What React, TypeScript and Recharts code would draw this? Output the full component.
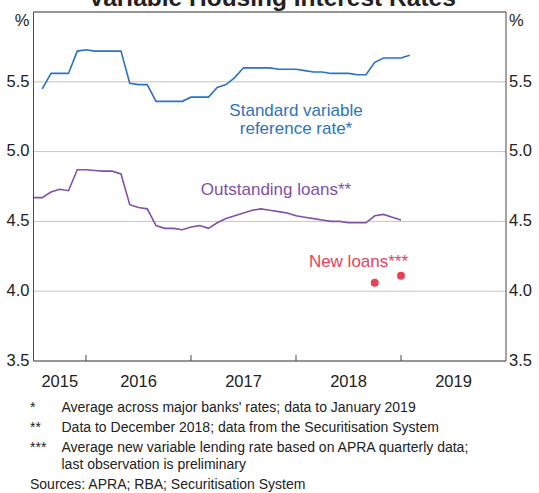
import { CartesianGrid, Line, LineChart, ReferenceLine, XAxis, YAxis } from "recharts";

// monthly observations, first entry is June 2015 (plotted at month end)
const startYear = 2015;
const startMonth = 6;

// Standard variable reference rate, July 2015 - January 2019
const standardVariable = [
    null, 5.45, 5.56, 5.56, 5.56, 5.72, 5.73, 5.72, 5.72, 5.72, 5.72,
    5.49, 5.48, 5.48, 5.36, 5.36, 5.36, 5.36, 5.39, 5.39, 5.39,
    5.46, 5.48, 5.53, 5.60, 5.60, 5.60, 5.60, 5.59, 5.59, 5.59,
    5.58, 5.57, 5.57, 5.56, 5.56, 5.56, 5.55, 5.55, 5.64, 5.67,
    5.67, 5.67, 5.69,
];

// Outstanding loans, June 2015 - December 2018
const outstandingLoans = [
    4.67, 4.67, 4.71, 4.73, 4.72, 4.87, 4.87, 4.865, 4.86, 4.86,
    4.84, 4.62, 4.60, 4.59, 4.47, 4.45, 4.45, 4.44, 4.46, 4.47,
    4.45, 4.49, 4.52, 4.54, 4.56, 4.58, 4.59, 4.58, 4.57, 4.56,
    4.54, 4.53, 4.52, 4.51, 4.50, 4.50, 4.49, 4.49, 4.49, 4.54,
    4.55, 4.53, 4.51,
];

// New loans (quarterly)
const newLoanQuarters = ["2018-09", "2018-12"];
const newLoanRates = [4.06, 4.11];

const yearTicks = [2016, 2017, 2018, 2019];
const yearLabelTicks = [2015.75, 2016.5, 2017.5, 2018.5, 2019.5];
const rateTicks = [3.5, 4, 4.5, 5, 5.5, 6];

const BLUE = "#2B73C2";
const PURPLE = "#8150AA";
const RED = "#E9415A";
const AXIS = "#4a4a4a";
const FONT = "'Liberation Sans', Arial, sans-serif";

const monthCount = Math.max(standardVariable.length, outstandingLoans.length);
const data = Array.from({ length: monthCount }, (_, k) => ({
    date: startYear + (startMonth + k) / 12,
    svr: standardVariable[k] ?? null,
    outstanding: outstandingLoans[k] ?? null,
    newLoans: null as number | null,
}));
newLoanQuarters.forEach((q, j) => {
    const [yy, mm] = q.split("-").map(Number);
    const k = (yy - startYear) * 12 + (mm - startMonth);
    if (data[k]) data[k].newLoans = newLoanRates[j];
});

const XTick = (props: any) => {
    const { x, y, payload } = props;
    const v = payload.value;
    if (Number.isInteger(v)) {
        return <line x1={x} x2={x} y1={y} y2={y - 6} stroke={AXIS} strokeWidth={1} />;
    }
    return (
        <text x={x} y={y + 26} textAnchor="middle" fontSize={16.5} fontFamily={FONT} fill="#222">
            {Math.floor(v)}
        </text>
    );
};

const YTick = (props: any) => {
    const { x, y, payload, textAnchor } = props;
    const v = payload.value;
    const isTop = v === 6;
    return (
        <text x={x} y={y + (isTop ? 8 : -1)} dy="0.355em" textAnchor={textAnchor} fontSize={16.5} fontFamily={FONT} fill="#222">
            {isTop ? "%" : v.toFixed(1)}
        </text>
    );
};

export default function App() {
    return (
        <div style={{ position: "absolute", left: 0, top: 0, width: 539, height: 493, background: "#fff", fontFamily: FONT }}>
            <LineChart width={539} height={493} data={data} margin={{ top: 12, right: 0, bottom: 0, left: 0 }}>
                <CartesianGrid yAxisId="left" vertical={false} stroke="#c4c4c4" />
                <XAxis
                    dataKey="date"
                    type="number"
                    domain={[2015.5, 2020]}
                    ticks={[...yearTicks, ...yearLabelTicks].sort()}
                    interval={0}
                    tick={<XTick />}
                    tickLine={false}
                    tickSize={0}
                    tickMargin={0}
                    height={132}
                    stroke={AXIS}
                    allowDataOverflow
                />
                <YAxis
                    yAxisId="left"
                    orientation="left"
                    domain={[3.5, 6]}
                    ticks={rateTicks}
                    width={33.5}
                    tick={<YTick />}
                    tickLine={false}
                    tickSize={0}
                    tickMargin={4}
                    stroke={AXIS}
                    interval={0}
                />
                <YAxis
                    yAxisId="right"
                    orientation="right"
                    domain={[3.5, 6]}
                    ticks={rateTicks}
                    width={33}
                    tick={<YTick />}
                    tickLine={false}
                    tickSize={0}
                    tickMargin={3}
                    stroke={AXIS}
                    interval={0}
                />
                <ReferenceLine yAxisId="left" y={6} stroke={AXIS} />
                <Line yAxisId="left" dataKey="svr" stroke={BLUE} strokeWidth={1.6} dot={false} isAnimationActive={false} />
                <Line yAxisId="left" dataKey="outstanding" stroke={PURPLE} strokeWidth={1.6} dot={false} isAnimationActive={false} />
                <Line
                    yAxisId="right"
                    dataKey="newLoans"
                    stroke="none"
                    dot={{ r: 4, fill: RED, stroke: "none" }}
                    isAnimationActive={false}
                />
            </LineChart>
            <svg width={539} height={493} style={{ position: "absolute", left: 0, top: 0, pointerEvents: "none" }} fontFamily={FONT}>
                <text x={272} y={5.5} textAnchor="middle" fontSize={24.5} fontWeight="bold" fill="#222">
                    Variable Housing Interest Rates
                </text>
                <text x={296} y={116} textAnchor="middle" fontSize={17} fill={BLUE}>Standard variable</text>
                <text x={296} y={134} textAnchor="middle" fontSize={17} fill={BLUE}>reference rate*</text>
                <text x={276} y={195} textAnchor="middle" fontSize={17} fill={PURPLE}>Outstanding loans**</text>
                <text x={358.5} y={267} textAnchor="middle" fontSize={17} fill={RED}>New loans***</text>
                <g fontSize={14} fill="#222">
                    <text x={30} y={412}>*</text>
                    <text x={61.5} y={412}>Average across major banks' rates; data to January 2019</text>
                    <text x={30} y={432}>**</text>
                    <text x={61.5} y={432}>Data to December 2018; data from the Securitisation System</text>
                    <text x={30} y={452}>***</text>
                    <text x={61.5} y={452}>Average new variable lending rate based on APRA quarterly data;</text>
                    <text x={61.5} y={469}>last observation is preliminary</text>
                    <text x={30} y={489}>Sources: APRA; RBA; Securitisation System</text>
                </g>
            </svg>
        </div>
    );
}
